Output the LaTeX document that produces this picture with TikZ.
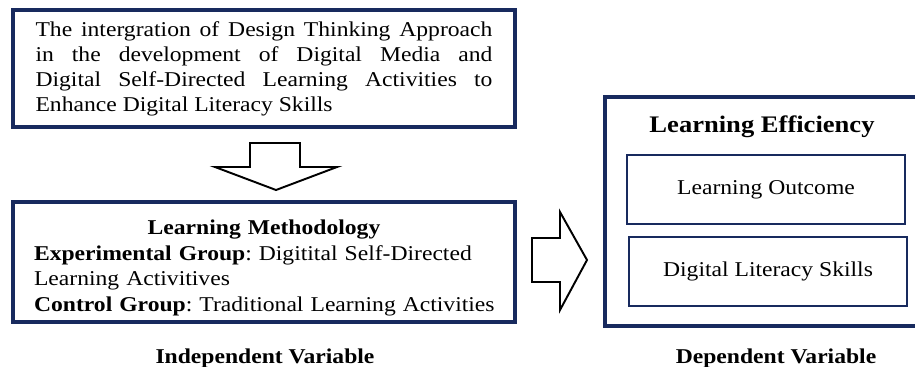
\documentclass[tikz,border=0pt]{standalone}
\usepackage{fontspec}
\setmainfont[FakeStretch=1.12]{Liberation Serif}
\definecolor{navy}{RGB}{24,42,94}

\begin{document}
\begin{tikzpicture}[x=0.02cm,y=-0.02cm,
  mainbox/.style={draw=navy,line width=2pt,inner sep=0pt},
  subbox/.style={draw=navy,line width=0.8pt,minimum width=5.56cm,minimum height=1.38cm},
  blockarrow/.style={draw=black,line width=1.1pt,fill=white,line join=miter}]
\useasboundingbox (0,0) rectangle (915,366);
\clip (0,0) rectangle (915,366);
\fontsize{12}{14.2}\selectfont\frenchspacing

% design thinking box
\node[mainbox,minimum width=10.04cm,minimum height=2.34cm,text width=9.14cm,align=justify] (design) at (264,68.5)
  {The intergration of Design Thinking Approach\linebreak
   in the development of Digital Media and\linebreak
   Digital Self-Directed Learning Activities to\linebreak
   Enhance Digital Literacy Skills};

% down arrow
\draw[blockarrow] (250,143) -- (300,143) -- (300,167) -- (337,167) -- (276,190) -- (215,167) -- (250,167) -- cycle;

% learning methodology box
\node[mainbox,minimum width=10.04cm,minimum height=2.4cm] (method) at (264,262) {};
\node[text width=9.2cm,align=left,font=\fontsize{12}{14.7}\selectfont] (methodtext) at (264,268)
  {\makebox[9.2cm]{\textbf{Learning Methodology}}\\
   \mbox{\textbf{Experimental Group}: Digitital Self-Directed}\\
   Learning Activitives\\
   \mbox{\textbf{Control Group}: Traditional Learning Activities}};
\node (indep) at (265,358) {\textbf{Independent Variable}};

% right arrow
\draw[blockarrow] (532,238) -- (560,238) -- (560,212) -- (587,260) -- (560,310) -- (560,282) -- (532,282) -- cycle;

% learning efficiency box
\draw[draw=navy,line width=2pt] (605,97) rectangle (920,326);
\node (effic) at (762,127) {\fontsize{13.5}{16}\selectfont\textbf{Learning Efficiency}};
\node[subbox] (outcome) at (766,189.5) {Learning Outcome};
\node[subbox] (literacy) at (768,271.5) {Digital Literacy Skills};
\node (dep) at (776,358) {\textbf{Dependent Variable}};

\end{tikzpicture}
\end{document}
